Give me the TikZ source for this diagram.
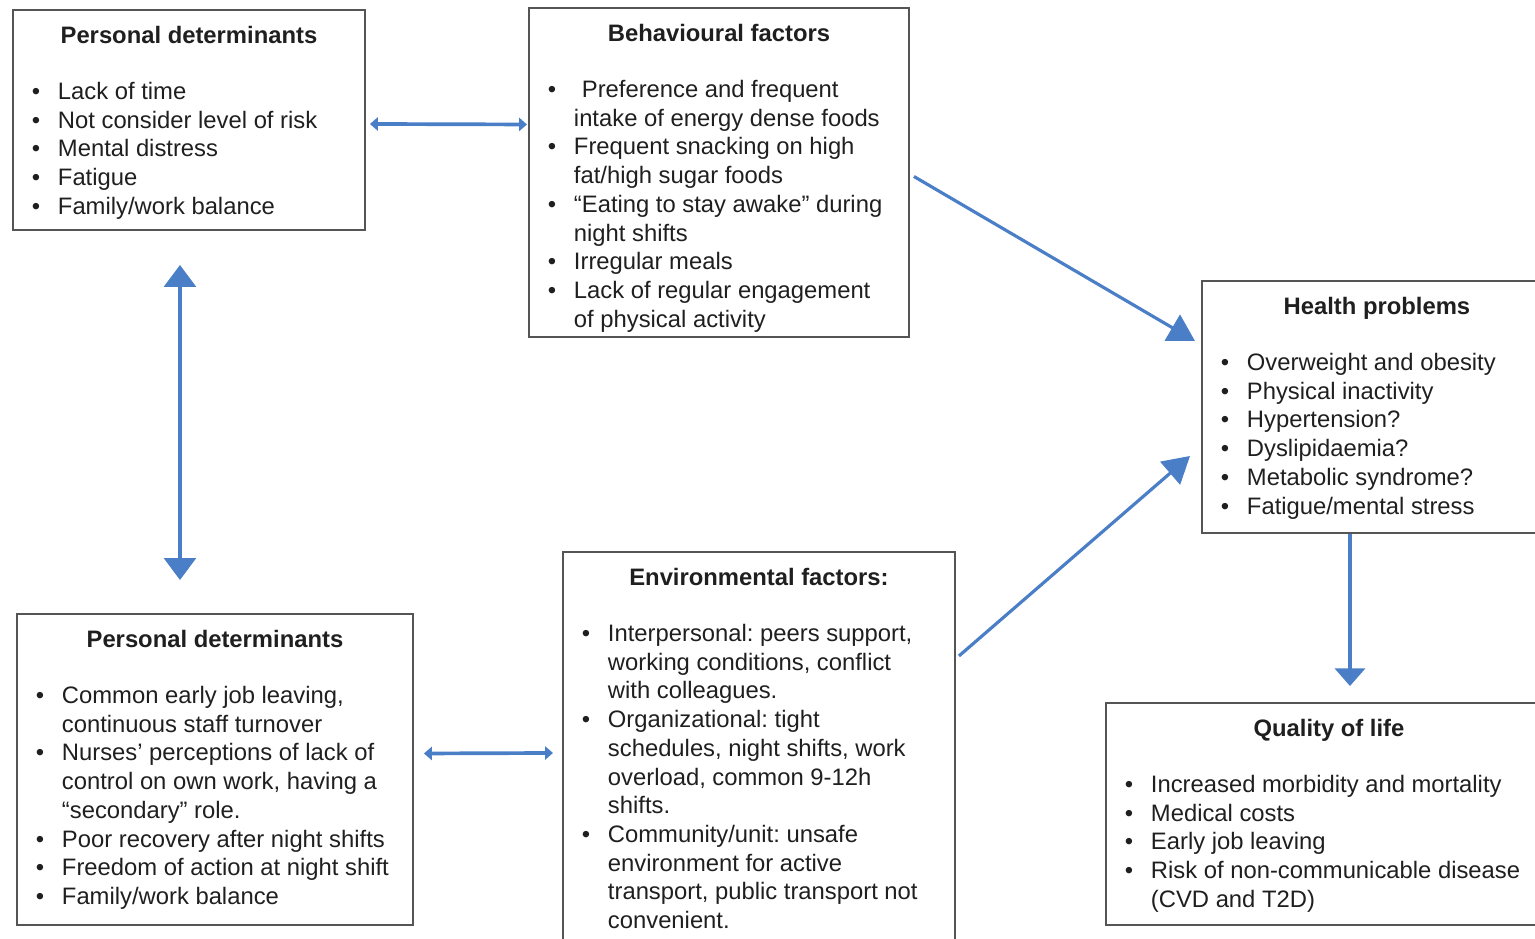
\documentclass[tikz,border=0pt]{standalone}
\usepackage{fontspec}
\setmainfont{Liberation Sans}
\usepackage{tikz}
\usetikzlibrary{positioning}
\usetikzlibrary{calc}
\usetikzlibrary{arrows.meta}
\definecolor{arrowblue}{RGB}{74,126,199}
\definecolor{boxgray}{RGB}{85,85,85}
\frenchspacing

% one pixel of the layout
\newlength{\px}
\setlength{\px}{0.02cm}

% bulleted line with hanging indent
\newcommand{\bitem}[1]{\par\hangindent=45\px\hangafter=1\noindent\hspace*{19\px}\makebox[26\px][l]{\textbullet}#1}

% box contents: width, height, title, items
\newcommand{\panel}[4]{\parbox[t][#2\px][t]{#1\px}{\fontsize{13.55pt}{16.35pt}\selectfont\color{black!88}%
  {\centering\rule{0pt}{34\px}\textbf{#3}\par}\vspace{\dimexpr\baselineskip-2\px\relax}\raggedright #4}}

\begin{document}
\begin{tikzpicture}[x=0.02cm, y=-0.02cm,
    box/.style={draw=boxgray, line width=1.1pt, inner sep=0pt, anchor=north west},
    flow/.style={draw=arrowblue, line width=2.1pt},
    bigtip/.tip={Triangle[width=18pt, length=12.5pt]},
    smalltip/.tip={Triangle[width=7.5pt, length=4.5pt]},
    diagtip/.tip={Triangle[width=17pt, length=15pt]},
    downtip/.tip={Triangle[width=17pt, length=10pt]}]

    \useasboundingbox (0,0) rectangle (1535,938);
    \clip (0,0) rectangle (1535,938);

    % upper row
    \node[box] (persTop) at (12,9) {\panel{352}{220}{Personal determinants}{%
        \bitem{Lack of time}
        \bitem{Not consider level of risk}
        \bitem{Mental distress}
        \bitem{Fatigue}
        \bitem{Family/work balance}}};

    \node[box] (behav) at (528,7) {\panel{380}{329}{Behavioural factors}{%
        \bitem{\hspace{4.5pt}Preference and frequent\newline intake of energy dense foods}
        \bitem{Frequent snacking on high\newline fat/high sugar foods}
        \bitem{“Eating to stay awake” during\newline night shifts}
        \bitem{Irregular meals}
        \bitem{Lack of regular engagement\newline of physical activity}}};

    \node[box] (health) at (1201,280) {\panel{350}{252}{Health problems}{%
        \bitem{Overweight and obesity}
        \bitem{Physical inactivity}
        \bitem{Hypertension?}
        \bitem{Dyslipidaemia?}
        \bitem{Metabolic syndrome?}
        \bitem{Fatigue/mental stress}}};

    % lower row
    \node[box] (persBot) at (16,613) {\panel{396}{311}{Personal determinants}{%
        \bitem{Common early job leaving,\newline continuous staff turnover}
        \bitem{Nurses’ perceptions of lack of\newline control on own work, having a\newline “secondary” role.}
        \bitem{Poor recovery after night shifts}
        \bitem{Freedom of action at night shift}
        \bitem{Family/work balance}}};

    \node[box] (env) at (562,551) {\panel{392}{400}{Environmental factors:}{%
        \bitem{Interpersonal: peers support,\newline working conditions, conflict\newline with colleagues.}
        \bitem{Organizational: tight\newline schedules, night shifts, work\newline overload, common 9-12h\newline shifts.}
        \bitem{Community/unit: unsafe\newline environment for active\newline transport, public transport not\newline convenient.}}};

    \node[box] (qol) at (1105,702) {\panel{446}{222}{Quality of life}{%
        \bitem{Increased morbidity and mortality}
        \bitem{Medical costs}
        \bitem{Early job leaving}
        \bitem{Risk of non-communicable disease\newline (CVD and T2D)}}};

    % arrows
    \draw[flow, smalltip-smalltip] ($(persTop.east)+(4,4)$) -- ($(behav.west)+(-1,-48)$);
    \draw[flow, line width=2.3pt, bigtip-bigtip] ($(persTop.south)+(-9,34)$) -- ($(persBot.north)+(-35,-33)$);
    \draw[flow, line width=1.8pt, -diagtip] ($(behav.east)+(4,4)$) -- ($(health.west)+(-6,-66)$);
    \draw[flow, line width=1.8pt, -diagtip] ($(env.east)+(3,-96)$) -- ($(health.west)+(-11,49)$);
    \draw[flow, -downtip] ($(health.south)+(-27,0)$) -- ($(qol.north)+(21,-16)$);
    \draw[flow, smalltip-smalltip] ($(persBot.east)+(10,-16)$) -- ($(env.west)+(-9,1)$);

\end{tikzpicture}
\end{document}
